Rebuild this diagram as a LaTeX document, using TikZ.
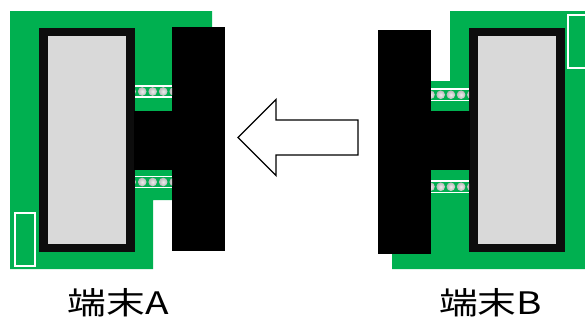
\documentclass[tikz,border=0pt]{standalone}
\usepackage{fontspec}
\newfontfamily\jpfont{Noto Sans CJK JP}
\definecolor{boardgreen}{HTML}{00B050}
\definecolor{framedark}{HTML}{0D0D0D}
\definecolor{screengray}{HTML}{D9D9D9}
\tikzset{
  board/.style={fill=boardgreen, draw=none},
  casing/.style={fill=framedark, draw=none},
  screen/.style={fill=screengray, draw=none},
  block/.style={fill=black, draw=none},
  rail/.style={draw=white, line width=1.6pt},
  ball/.style={inner color=gray!15, outer color=gray!55},
  pad/.style={draw=white, line width=1.6pt, fill=none},
  bigarrow/.style={draw=black, fill=white, line width=1.3pt, line join=miter},
  devlabel/.style={font=\jpfont\fontsize{31}{31}\selectfont, xscale=1.25, inner sep=0pt, anchor=center}
}
% #1,#2: left/right end, #3,#4: upper/lower rail, #5: first ball x, #6: pitch
\newcommand\ballrow[6]{%
  \begin{scope}
    \clip (#1,#3) rectangle (#2,#4);
    \foreach \k in {0,...,5}
      \shade[ball] ({#5+\k*#6},{(#3+#4)/2}) circle (4.3);
  \end{scope}
  \draw[rail] (#1,#3) -- (#2,#3) (#1,#4) -- (#2,#4);
}
\begin{document}
\begin{tikzpicture}[x=1pt,y=-1pt]
\useasboundingbox (0,0) rectangle (585,324);

% ---- terminal A ----
\fill[board] (10,11) -- (212,11) -- (212,200) -- (153,200) -- (153,269) -- (10,269) -- cycle;
\fill[casing] (39,28) rectangle (135,252);
\fill[screen] (48,36) rectangle (126,244);
\fill[block] (172,27) rectangle (225,251);
\fill[block] (134,111) rectangle (173,170);
\ballrow{135}{172}{86}{97}{131.7}{10.5}
\ballrow{135}{172}{176.5}{187.5}{131.7}{10.5}
\draw[pad] (15,213) rectangle (35,266);

% ---- terminal B ----
\fill[board] (450,11) -- (585,11) -- (585,269) -- (392,269) -- (392,81) -- (450,81) -- cycle;
\fill[casing] (469,28) rectangle (565,252);
\fill[screen] (478,36) rectangle (556,244);
\fill[block] (378,30) rectangle (431,254);
\fill[block] (430,111) rectangle (470,170);
\ballrow{431}{469}{89}{100.5}{430.5}{10.2}
\ballrow{431}{469}{181}{192.5}{430.5}{10.2}
\draw[pad] (568,15) rectangle (588,68);

% ---- transfer direction ----
\draw[bigarrow] (238,137.5) -- (276,99.5) -- (276,120) -- (358,120)
  -- (358,155) -- (276,155) -- (276,175.5) -- cycle;

% ---- labels ----
\node[devlabel] (labelA) at (118.5,303) {端末A};
\node[devlabel] (labelB) at (490.5,303) {端末B};
\end{tikzpicture}
\end{document}
